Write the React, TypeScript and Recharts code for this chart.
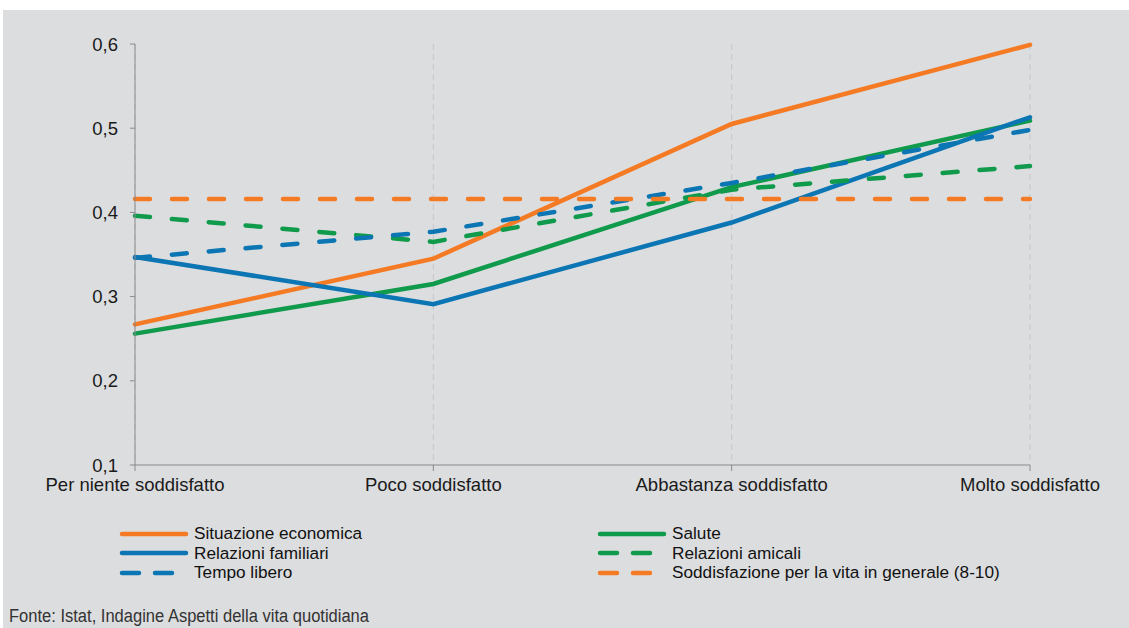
import React from 'react';
import { LineChart, Line, XAxis, YAxis, CartesianGrid } from 'recharts';

const categories = ['Per niente soddisfatto', 'Poco soddisfatto', 'Abbastanza soddisfatto', 'Molto soddisfatto'];
const situazioneEconomica = [0.267, 0.345, 0.505, 0.599];
const salute = [0.256, 0.315, 0.43, 0.509];
const relazioniFamiliari = [0.347, 0.291, 0.388, 0.513];
const relazioniAmicali = [0.396, 0.365, 0.427, 0.455];
const tempoLibero = [0.346, 0.377, 0.435, 0.498];
const soddisfazioneVita = [0.416, 0.416, 0.416, 0.416];
const yTicks = [0.1, 0.2, 0.3, 0.4, 0.5, 0.6];

const ORANGE = '#f47a24';
const GREEN = '#0f9a4c';
const BLUE = '#0b76b3';

const series = [
  { key: 'eco', name: 'Situazione economica', values: situazioneEconomica, color: ORANGE, dashed: false },
  { key: 'sal', name: 'Salute', values: salute, color: GREEN, dashed: false },
  { key: 'fam', name: 'Relazioni familiari', values: relazioniFamiliari, color: BLUE, dashed: false },
  { key: 'ami', name: 'Relazioni amicali', values: relazioniAmicali, color: GREEN, dashed: true },
  { key: 'tem', name: 'Tempo libero', values: tempoLibero, color: BLUE, dashed: true },
  { key: 'vit', name: 'Soddisfazione per la vita in generale (8-10)', values: soddisfazioneVita, color: ORANGE, dashed: true },
];

const data = categories.map((cat, i) => {
  const row: Record<string, string | number> = { cat };
  series.forEach((s) => { row[s.key] = s.values[i]; });
  return row;
});

// legend order as in the picture: two columns
const legendRows = [
  [series[0], series[1]],
  [series[2], series[3]],
  [series[4], series[5]],
];

const font = '"Liberation Sans", Arial, sans-serif';

function Swatch({ color, dashed }: { color: string; dashed: boolean }) {
  return (
    <svg width={70} height={10} style={{ display: 'block' }}>
      {dashed ? (
        <>
          <line x1={3} y1={5} x2={20} y2={5} stroke={color} strokeWidth={4.5} strokeLinecap="round" />
          <line x1={36} y1={5} x2={53} y2={5} stroke={color} strokeWidth={4.5} strokeLinecap="round" />
        </>
      ) : (
        <line x1={3} y1={5} x2={67} y2={5} stroke={color} strokeWidth={4.5} strokeLinecap="round" />
      )}
    </svg>
  );
}

export default function App() {
  return (
    <div style={{ position: 'fixed', left: 0, top: 0, width: 1129, height: 628, background: '#fff', overflow: 'hidden' }}>
      <div style={{ position: 'absolute', left: 3, top: 10, right: 0, bottom: 0, background: '#dcdddf' }} />
      <div style={{ position: 'absolute', left: 0, top: 0 }}>
        <LineChart width={1129} height={500} data={data} margin={{ top: 44, right: 99, left: 0, bottom: 0 }}>
          <CartesianGrid horizontal={false} stroke="#c6c7c9" strokeDasharray="6 4" />
          <XAxis
            dataKey="cat"
            stroke="#8a8a8a"
            tickSize={6}
            tickMargin={7}
            height={35}
            interval={0}
            tick={{ fill: '#1a1a1a', fontSize: 18.5, fontFamily: font }}
          />
          <YAxis
            domain={[0.1, 0.6]}
            ticks={yTicks}
            width={135}
            stroke="#8a8a8a"
            tickSize={5}
            tickMargin={12}
            tickFormatter={(v: number) => v.toFixed(1).replace('.', ',')}
            tick={{ fill: '#1a1a1a', fontSize: 18.5, fontFamily: font }}
          />
          {series.map((s) => (
            <Line
              key={s.key}
              dataKey={s.key}
              name={s.name}
              type="linear"
              stroke={s.color}
              strokeWidth={4.5}
              strokeDasharray={s.dashed ? '15 22' : undefined}
              strokeLinecap="round"
              dot={false}
              activeDot={false}
              isAnimationActive={false}
            />
          ))}
        </LineChart>
      </div>
      <div style={{ position: 'absolute', left: 119, top: 524, fontFamily: font, fontSize: 17.2, color: '#111' }}>
        {legendRows.map((row, ri) => (
          <div key={ri} style={{ display: 'flex', height: 19.5, alignItems: 'center' }}>
            {row.map((s, ci) => (
              <div key={s.key} style={{ display: 'flex', alignItems: 'center', width: ci === 0 ? 478 : 500 }}>
                <Swatch color={s.color} dashed={s.dashed} />
                <span style={{ marginLeft: 5 }}>{s.name}</span>
              </div>
            ))}
          </div>
        ))}
      </div>
      <svg width={400} height={30} style={{ position: 'absolute', left: 0, top: 598 }}>
        <text
          x={9}
          y={24}
          fontFamily={font}
          fontSize={18}
          fill="#333"
          textLength={360}
          lengthAdjust="spacingAndGlyphs"
        >
          Fonte: Istat, Indagine Aspetti della vita quotidiana
        </text>
      </svg>
    </div>
  );
}
